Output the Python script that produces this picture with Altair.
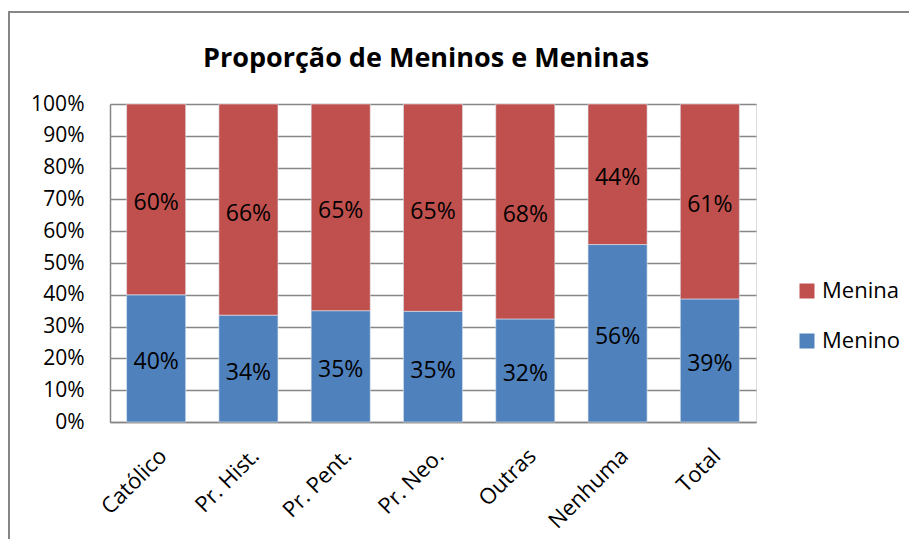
import altair as alt
import pandas as pd

categories = ["Católico", "Pr. Hist.", "Pr. Pent.", "Pr. Neo.", "Outras", "Nenhuma", "Total"]
menino = [40.0, 33.6, 35.0, 34.8, 32.4, 55.8, 38.7]
menina = [60.0, 66.4, 65.0, 65.2, 67.6, 44.2, 61.3]
series = ["Menina", "Menino"]
colors = ["#C0504D", "#4F81BD"]
y_ticks = [0, 10, 20, 30, 40, 50, 60, 70, 80, 90, 100]
title_text = ["Proporção de Meninos e Meninas"]

rows = []
for c, m, f in zip(categories, menino, menina):
    rows.append({"cat": c, "serie": "Menino", "value": m, "ord": 0})
    rows.append({"cat": c, "serie": "Menina", "value": f, "ord": 1})
df = pd.DataFrame(rows)

FONT = "Open Sans"
GRAY = "#868686"

base = alt.Chart(df).transform_stack(
    stack="value", groupby=["cat"], as_=["y0", "y1"],
    sort=[alt.SortField("ord", order="ascending")]
)

x_scale = alt.Scale(paddingInner=0.36, paddingOuter=0.18)
x_axis = alt.Axis(labelAngle=-45, labelFontSize=22, labelFont=FONT,
                  labelColor="black", domainColor=GRAY, domainWidth=1.5,
                  ticks=False, labelPadding=23, grid=False)
y_scale = alt.Scale(domain=[0, 100], nice=False)
y_axis = alt.Axis(values=y_ticks, labelExpr="datum.value + '%'",
                  labelFontSize=21, labelFont=FONT, labelColor="black",
                  ticks=False, labelPadding=26, grid=True, gridColor=GRAY,
                  gridWidth=1.4, domainColor=GRAY, domainWidth=1.5,
                  labelOverlap=False, labelBound=False)

bars = base.mark_bar(stroke="#dde6f0", strokeWidth=0.6).encode(
    x=alt.X("cat:N", sort=categories, title=None, scale=x_scale, axis=x_axis),
    y=alt.Y("y0:Q", title=None, scale=y_scale, axis=y_axis),
    y2="y1:Q",
    color=alt.Color("serie:N", scale=alt.Scale(domain=series, range=colors),
                    legend=alt.Legend(title=None, orient="none", legendX=686, legendY=176,
                                      symbolType="square", symbolSize=225,
                                      symbolStrokeWidth=0, labelFontSize=22,
                                      labelFont=FONT, labelColor="black",
                                      rowPadding=28, labelOffset=4, padding=0)),
)

labels = base.transform_calculate(
    mid="(datum.y0 + datum.y1) / 2",
    lbl="format(datum.value / 100, '.0%')"
).mark_text(fontSize=23, font=FONT, color="black", baseline="middle", dy=4).encode(
    x=alt.X("cat:N", sort=categories, title=None, scale=x_scale, axis=x_axis),
    y=alt.Y("mid:Q", title=None, scale=y_scale, axis=y_axis),
    text="lbl:N",
)

one = pd.DataFrame({"t": title_text})

border = alt.Chart(one).mark_rect(
    fillOpacity=0, stroke=GRAY, strokeWidth=2
).encode(
    x=alt.value(-101), x2=alt.value(900), y=alt.value(-92), y2=alt.value(700)
)

title = alt.Chart(one).mark_text(
    font=FONT, fontSize=27, fontWeight="bold", color="black", baseline="middle"
).encode(
    x=alt.value(316), y=alt.value(-45), text="t:N"
)

chart = alt.layer(border, bars, labels, title).properties(
    width=646, height=318,
    padding={"left": 102, "top": 96, "right": 153, "bottom": 117},
    autosize=alt.AutoSizeParams(type="none"),
).configure_view(stroke=None).configure(background="white")

chart.save("out.html", embed_options={"renderer": "svg", "actions": False})
